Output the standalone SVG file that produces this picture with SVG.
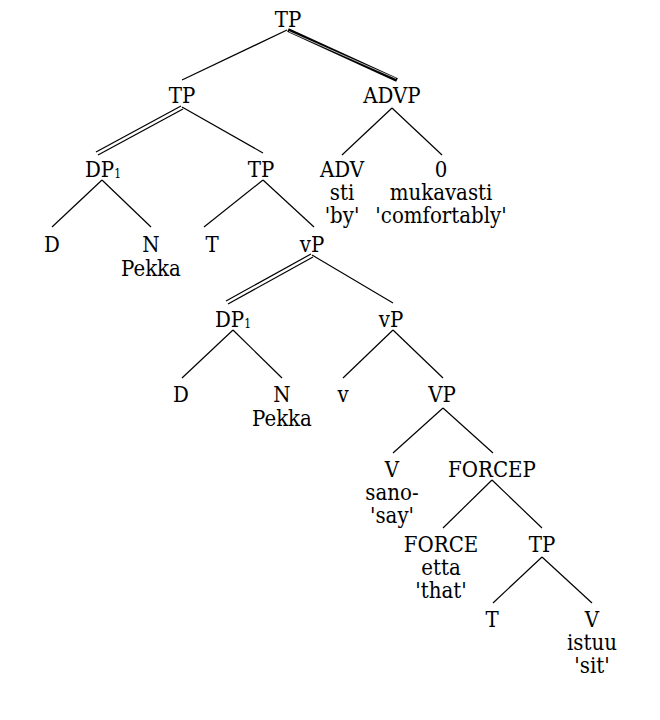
<svg xmlns="http://www.w3.org/2000/svg" width="660" height="720" viewBox="0 0 660 720">
<style>
text{font-family:"DejaVu Serif",serif;font-stretch:condensed;font-size:22px;fill:#000;text-anchor:middle}
.st{text-anchor:start}
.sub{font-size:12px}
line{stroke:#000;stroke-width:1.2;fill:none}
.thick{stroke-width:4}
.gap{stroke:#fff;stroke-width:0.7}
</style>
<rect width="660" height="720" fill="#fff"/>
<g id="connectors">
<line x1="287" y1="30" x2="182" y2="80"/>
<line class="thick" x1="288" y1="30" x2="397" y2="80"/>
<line class="gap" x1="289" y1="31.5" x2="396" y2="78.5"/>
<line x1="181" y1="106" x2="96" y2="152"/>
<line x1="183" y1="109" x2="98" y2="155"/>
<line x1="182" y1="107" x2="263" y2="153"/>
<line x1="102" y1="180" x2="52" y2="227"/>
<line x1="102" y1="180" x2="151" y2="227"/>
<line x1="263" y1="180" x2="204" y2="227"/>
<line x1="263" y1="180" x2="314" y2="227"/>
<line x1="311" y1="254" x2="226" y2="301"/>
<line x1="313" y1="257" x2="228" y2="304"/>
<line x1="312" y1="255" x2="393" y2="303"/>
<line x1="233" y1="330" x2="182" y2="378"/>
<line x1="233" y1="330" x2="282" y2="378"/>
<line x1="393" y1="330" x2="343" y2="378"/>
<line x1="393" y1="330" x2="443" y2="378"/>
<line x1="392" y1="108" x2="342" y2="155"/>
<line x1="392" y1="108" x2="442" y2="155"/>
<line x1="443" y1="408" x2="393" y2="453"/>
<line x1="443" y1="408" x2="493" y2="453"/>
<line x1="492" y1="480" x2="443" y2="528"/>
<line x1="492" y1="480" x2="542" y2="528"/>
<line x1="542" y1="557" x2="493" y2="603"/>
<line x1="542" y1="557" x2="592" y2="603"/>
</g>
<g id="n_TP0"><text x="288" y="27">TP</text></g>
<g id="n_TP1"><text x="182" y="103">TP</text></g>
<g id="n_ADVP"><text x="392" y="103">ADVP</text></g>
<g id="n_DP1a"><text class="st" x="85" y="177">DP<tspan class="sub" dy="1">1</tspan></text></g>
<g id="n_TP2"><text x="261" y="177">TP</text></g>
<g id="n_ADV"><text x="342" y="177">ADV</text><text x="342" y="200">sti</text><text x="342" y="223">'by'</text></g>
<g id="n_0"><text x="441" y="177">0</text><text x="441" y="200">mukavasti</text><text x="441" y="223">'comfortably'</text></g>
<g id="n_Da"><text x="52" y="252">D</text></g>
<g id="n_Na"><text x="151" y="252">N</text><text x="151" y="276">Pekka</text></g>
<g id="n_T1"><text x="212" y="252">T</text></g>
<g id="n_vP1"><text x="312" y="252">vP</text></g>
<g id="n_DP1b"><text class="st" x="215" y="327">DP<tspan class="sub" dy="1">1</tspan></text></g>
<g id="n_vP2"><text x="391" y="327">vP</text></g>
<g id="n_Db"><text x="181" y="402">D</text></g>
<g id="n_Nb"><text x="282" y="402">N</text><text x="282" y="426">Pekka</text></g>
<g id="n_v"><text x="343" y="402">v</text></g>
<g id="n_VP"><text x="442" y="402">VP</text></g>
<g id="n_V1"><text x="392" y="477">V</text><text x="392" y="500">sano-</text><text x="392" y="523">'say'</text></g>
<g id="n_FORCEP"><text x="492" y="477">FORCEP</text></g>
<g id="n_FORCE"><text x="441" y="552">FORCE</text><text x="441" y="575">etta</text><text x="441" y="598">'that'</text></g>
<g id="n_TP3"><text x="542" y="552">TP</text></g>
<g id="n_T2"><text x="492" y="627">T</text></g>
<g id="n_V2"><text x="592" y="627">V</text><text x="592" y="650">istuu</text><text x="592" y="673">'sit'</text></g>
</svg>
